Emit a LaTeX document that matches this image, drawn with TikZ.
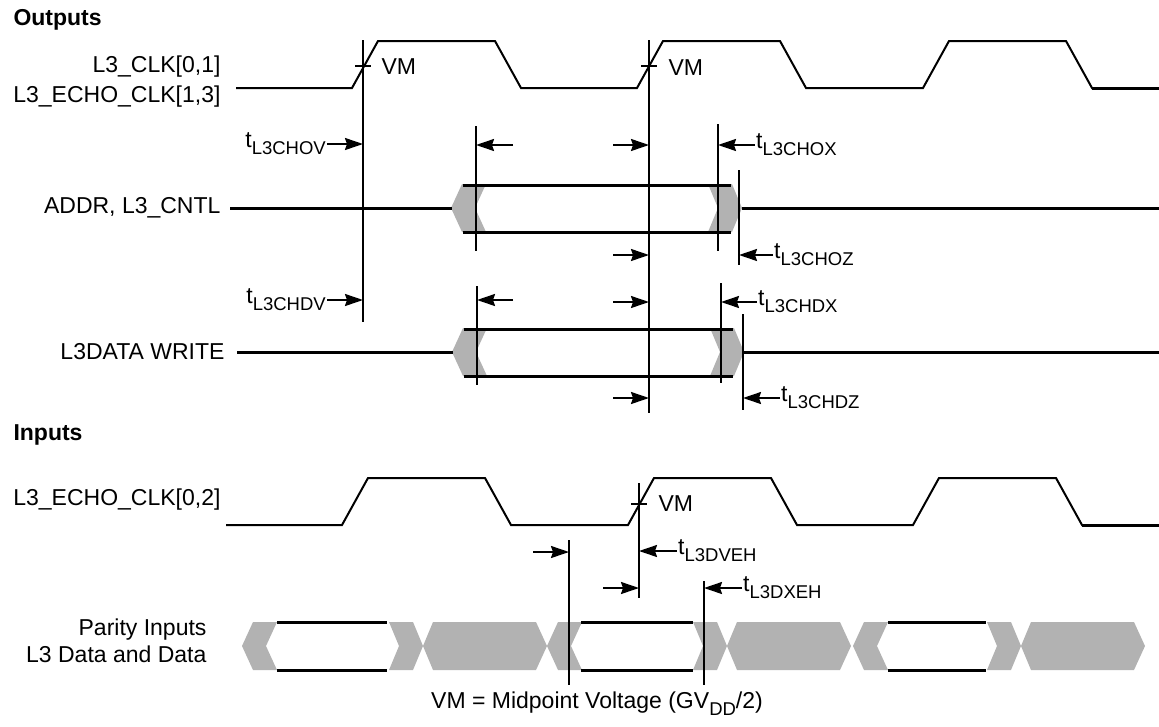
\documentclass[tikz,border=0pt]{standalone}
\usepackage{fontspec}
\setmainfont{Liberation Sans}
\usetikzlibrary{arrows.meta}
\definecolor{holdgray}{gray}{0.7}
\newcommand{\tsub}[1]{t\raisebox{-0.3em}{\fontsize{18.5}{20}\selectfont #1}}
\tikzset{
  lchev/.pic={\fill[holdgray] (0,0) -- (11,-24) -- (35,-24) -- (24,0) -- (35,24) -- (11,24) -- cycle;},
  rchev/.pic={\fill[holdgray] (0,-24) -- (24,-24) -- (34,0) -- (24,24) -- (0,24) -- (10,0) -- cycle;},
  hexa/.pic={\fill[holdgray] (0,0) -- (10,-24) -- (113,-24) -- (124,0) -- (113,24) -- (10,24) -- cycle;}
}

\begin{document}
\begin{tikzpicture}[x=1pt, y=-1pt, font=\fontsize{23}{27}\selectfont,
    wave/.style={line width=2pt},
    bus/.style={line width=3pt},
    vline/.style={line width=2pt},
    tarrow/.style={line width=2pt, -{Stealth[length=18pt,width=12pt,inset=2pt]}},
    lbl/.style={inner sep=1pt}]
    \useasboundingbox (0,0) rectangle (1159,726);

    % labels
    \node[anchor=west, font=\fontsize{23}{27}\selectfont\bfseries] (outlbl) at (10,20) {Outputs};
    \node[anchor=east] (clklbl) at (224,67) {L3\_CLK[0,1]};
    \node[anchor=east] (eclklbl) at (224,97) {L3\_ECHO\_CLK[1,3]};
    \node[anchor=east] (addrlbl) at (224,208) {ADDR, L3\_CNTL};
    \node[anchor=east] (datalbl) at (228,352) {L3DATA WRITE};
    \node[anchor=west, font=\fontsize{23}{27}\selectfont\bfseries] (inlbl) at (10,435) {Inputs};
    \node[anchor=east] (iclklbl) at (224,500) {L3\_ECHO\_CLK[0,2]};
    \node[anchor=east, align=right] (parlbl) at (210,641) {Parity Inputs\\L3 Data and Data};
    \node[anchor=west] (vma) at (378,67) {VM};
    \node[anchor=west] (vmb) at (665,68) {VM};
    \node[anchor=west] (vmc) at (655,504) {VM};
    \node (note) at (597,704) {VM = Midpoint Voltage (GV\raisebox{-0.3em}{\fontsize{18.5}{20}\selectfont DD}/2)};

    % clocks
    \draw[wave] (236,88) foreach \r in {352,637,923}{ -- (\r,88) -- (\r+26,41) -- (\r+143,41) -- (\r+169,88)} -- (1159,88);
    \draw[line width=3pt] (1092,88) -- (1159,88);
    \draw[wave] (226,525) foreach \r in {342,628,913}{ -- (\r,525) -- (\r+26,478) -- (\r+143,478) -- (\r+169,525)} -- (1159,525);
    \draw[line width=3pt] (1082,525) -- (1159,525);
    \draw[vline] (355,66) -- (371,66) (641,66) -- (657,66) (631,504) -- (647,504);

    % output buses
    \pic at (451,208) {lchev};
    \pic at (708,208) {rchev};
    \draw[bus] (230,208) -- (452,208) (463,185) -- (731,185) (463,232) -- (731,232) (742,208) -- (1159,208);
    \pic at (452,352) {lchev};
    \pic at (710,352) {rchev};
    \draw[bus] (237,352) -- (453,352) (464,329) -- (733,329) (464,376) -- (733,376) (744,352) -- (1159,352);

    % input data
    \foreach \a in {242,547,853} \pic at (\a,646) {lchev};
    \foreach \a in {389,693,987} \pic at (\a,646) {rchev};
    \foreach \a in {423,727,1021} \pic at (\a,646) {hexa};
    \foreach \a/\b in {277/387,581/693,888/986}
        \draw[bus] (\a,622) -- (\b,622) (\a,670) -- (\b,670);

    % timing lines
    \foreach \n/\x/\ya/\yb in {v1/363/40/322, v2/649/40/413, a1/476/126/251, a2/718/124/251,
        a3/739/170/265, d1/477/286/385, d2/721/283/383, d3/743/314/410,
        i1/569/540/685, i2/639/483/598, i3/704/581/685}
        \draw[vline] (\x,\ya) coordinate (\n) -- (\x,\yb);

    % timing labels
    \node[lbl, anchor=east] (chov) at (327,144) {\tsub{L3CHOV}};
    \node[lbl, anchor=west] (chox) at (755,145) {\tsub{L3CHOX}};
    \node[lbl, anchor=west] (choz) at (773,255) {\tsub{L3CHOZ}};
    \node[lbl, anchor=east] (chdv) at (327,300) {\tsub{L3CHDV}};
    \node[lbl, anchor=west] (chdx) at (757,302) {\tsub{L3CHDX}};
    \node[lbl, anchor=west] (chdz) at (780,398) {\tsub{L3CHDZ}};
    \node[lbl, anchor=west] (dveh) at (677,551) {\tsub{L3DVEH}};
    \node[lbl, anchor=west] (dxeh) at (742,588) {\tsub{L3DXEH}};

    \coordinate (p1) at (513,145);
    \coordinate (p2) at (613,145);
    \coordinate (p3) at (613,255);
    \coordinate (p4) at (513,300);
    \coordinate (p5) at (613,302);
    \coordinate (p6) at (613,398);
    \coordinate (p7) at (533,552);
    \coordinate (p8) at (603,588);

    % arrows
    \draw[tarrow] (chov.east) -- (chov.east -| v1);
    \draw[tarrow] (p1) -- (p1 -| a1);
    \draw[tarrow] (p2) -- (p2 -| v2);
    \draw[tarrow] (chox.west) -- (chox.west -| a2);
    \draw[tarrow] (p3) -- (p3 -| v2);
    \draw[tarrow] (choz.west) -- (choz.west -| a3);
    \draw[tarrow] (chdv.east) -- (chdv.east -| v1);
    \draw[tarrow] (p4) -- (p4 -| d1);
    \draw[tarrow] (p5) -- (p5 -| v2);
    \draw[tarrow] (chdx.west) -- (chdx.west -| d2);
    \draw[tarrow] (p6) -- (p6 -| v2);
    \draw[tarrow] (chdz.west) -- (chdz.west -| d3);
    \draw[tarrow] (p7) -- (p7 -| i1);
    \draw[tarrow] (dveh.west) -- (dveh.west -| i2);
    \draw[tarrow] (p8) -- (p8 -| i2);
    \draw[tarrow] (dxeh.west) -- (dxeh.west -| i3);
\end{tikzpicture}
\end{document}
